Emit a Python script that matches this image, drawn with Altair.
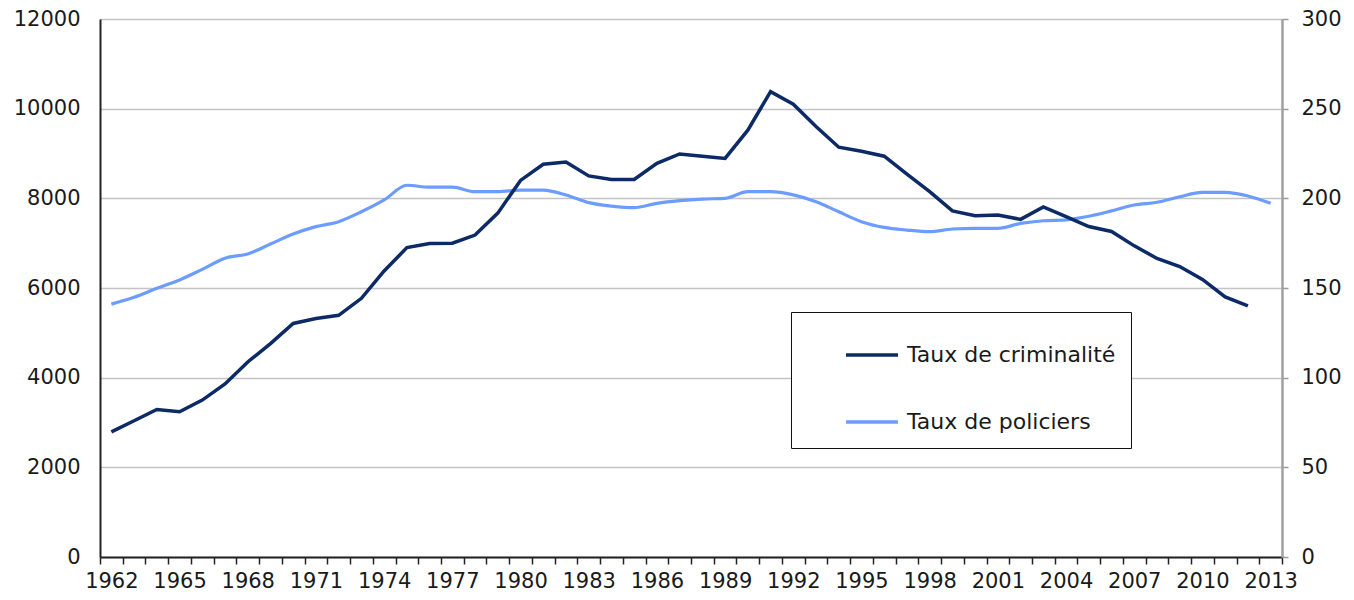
import altair as alt
import pandas as pd

years = list(range(1962, 2014))
crime = [2790, 3040, 3290, 3240, 3500, 3860, 4350, 4760, 5210, 5320,
         5390, 5770, 6380, 6900, 6990, 7000, 7180, 7670, 8400, 8760,
         8810, 8500, 8420, 8420, 8780, 8990, 8940, 8890, 9520, 10380,
         10100, 9600, 9140, 9050, 8940, 8540, 8150, 7720, 7610, 7630,
         7530, 7810, 7590, 7370, 7260, 6940, 6660, 6480, 6190, 5800,
         5600]
police = [141.0, 144.8, 149.8, 154.5, 160.4, 166.6, 169.0, 174.5, 180.1, 184.2,
          187.0, 192.5, 199.1, 207.3, 206.2, 206.2, 203.7, 203.7, 204.6, 204.6,
          201.9, 197.6, 195.7, 194.8, 197.2, 198.7, 199.6, 200.0, 203.7, 203.7,
          201.9, 198.1, 192.5, 187.0, 183.8, 182.3, 181.4, 182.9, 183.3, 183.3,
          186.0, 187.5, 188.0, 190.0, 193.0, 196.3, 197.8, 200.9, 203.3, 203.3,
          201.3, 197.2]
series_names = ["Taux de criminalité", "Taux de policiers"]
series_colors = ["#0c2a66", "#6d9cff"]
label_years = list(range(1962, 2014, 3))
left_ticks = list(range(0, 12001, 2000))
right_ticks = list(range(0, 301, 50))

df_crime = pd.DataFrame({"year": years[:len(crime)], "value": crime})
df_police = pd.DataFrame({"year": years, "value": police})

boundaries = [years[0] - 0.5 + i for i in range(len(years) + 1)]
x_scale = alt.Scale(domain=[years[0] - 0.5, years[-1] + 0.5], nice=False, zero=False)

FONT = "DejaVu Sans"
TXT = "#1a1a1a"
AX = "#222222"

color_scale = alt.Scale(domain=series_names, range=series_colors)
legend = alt.Legend(
    title=None, orient="none", legendX=691, legendY=293,
    fillColor="white", strokeColor="#111111", padding=15,
    symbolType="stroke", symbolSize=2704, symbolStrokeWidth=3.5,
    symbolOffset=38, labelOffset=7, rowPadding=28,
    labelFont=FONT, labelFontSize=22, labelColor=TXT, labelLimit=400,
)

x_labels = alt.X(
    "year:Q", scale=x_scale,
    axis=alt.Axis(
        orient="bottom", values=label_years, format="d", ticks=False, tickSize=0,
        domain=False, labelFont=FONT, labelFontSize=21, labelColor=TXT,
        labelPadding=13, labelOverlap=False, labelFlush=False, grid=False, title=None,
    ),
)
x_ticks = alt.X(
    "year:Q", scale=x_scale,
    axis=alt.Axis(orient="bottom", values=boundaries, labels=False, ticks=True,
                  tickSize=7, tickColor=AX, tickWidth=1.5, grid=False, title=None,
                  domainColor=AX, domainWidth=2),
)

crime_line = alt.Chart(df_crime).mark_line(strokeWidth=3.5).encode(
    x=x_labels,
    y=alt.Y("value:Q", scale=alt.Scale(domain=[0, 12000], nice=False),
            axis=alt.Axis(orient="left", values=left_ticks, format="d", ticks=False,
                          tickSize=0, labelPadding=20, domainColor=AX, domainWidth=2,
                          gridColor="#c4c4c4", gridWidth=1.5, grid=True,
                          labelFont=FONT, labelFontSize=21, labelColor=TXT, title=None)),
    color=alt.Color("s:N", scale=color_scale, legend=legend),
).transform_calculate(s="'" + series_names[0] + "'")

police_line = alt.Chart(df_police).mark_line(strokeWidth=3.2, interpolate="monotone").encode(
    x=x_ticks,
    y=alt.Y("value:Q", scale=alt.Scale(domain=[0, 300], nice=False),
            axis=alt.Axis(orient="right", values=right_ticks, format="d", grid=False,
                          tickColor="#9a9a9a", tickSize=6, tickWidth=1.5,
                          domainColor="#a0a0a0", domainWidth=2.5, labelPadding=13,
                          labelFont=FONT, labelFontSize=21, labelColor=TXT, title=None)),
    color=alt.Color("s:N", scale=color_scale, legend=legend),
).transform_calculate(s="'" + series_names[1] + "'")

chart = alt.layer(police_line, crime_line).resolve_scale(
    y="independent", x="shared", color="shared"
).resolve_axis(x="independent", y="independent").properties(
    width=1182, height=538,
    autosize=alt.AutoSizeParams(type="none"),
    padding={"left": 92, "top": 11, "right": 60, "bottom": 35},
).configure_view(stroke=AX, strokeWidth=2).configure(background="white")

chart.save("out.html", embed_options={"renderer": "svg", "actions": False})
